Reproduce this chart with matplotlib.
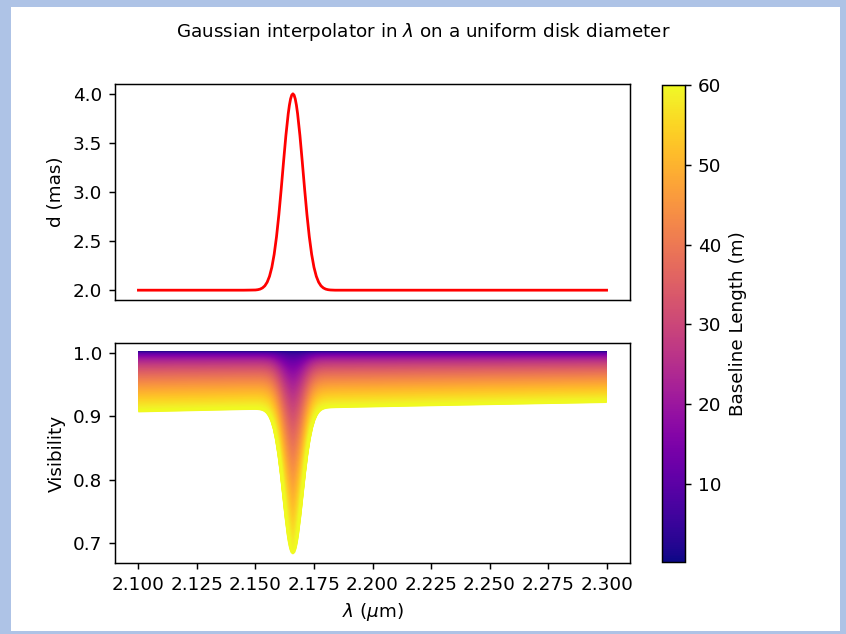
import numpy as np
import matplotlib
matplotlib.use("Agg")
import matplotlib.pyplot as plt
from matplotlib.collections import LineCollection
from matplotlib.colors import Normalize
from matplotlib.cm import ScalarMappable

# --- data ---
wavelengths = [2.100, 2.120, 2.140, 2.145, 2.148, 2.150, 2.151, 2.152, 2.153, 2.154,
               2.155, 2.156, 2.157, 2.158, 2.159, 2.160, 2.161, 2.162, 2.163, 2.164,
               2.1645, 2.165, 2.1655, 2.166, 2.1665, 2.167, 2.1675, 2.168, 2.169,
               2.170, 2.171, 2.172, 2.173, 2.174, 2.175, 2.176, 2.177, 2.178, 2.179,
               2.180, 2.181, 2.182, 2.184, 2.190, 2.200, 2.220, 2.240, 2.260, 2.280, 2.300]
diameters = [2.000, 2.000, 2.000, 2.000, 2.001, 2.002, 2.005, 2.011, 2.023, 2.044,
             2.081, 2.141, 2.233, 2.366, 2.545, 2.769, 3.030, 3.308, 3.575, 3.798,
             3.884, 3.948, 3.987, 4.000, 3.987, 3.948, 3.884, 3.798, 3.575,
             3.308, 3.030, 2.769, 2.545, 2.366, 2.233, 2.141, 2.081, 2.044, 2.023,
             2.011, 2.005, 2.002, 2.000, 2.000, 2.000, 2.000, 2.000, 2.000, 2.000, 2.000]
baseline_min = 0.2
baseline_max = 60.0
n_baselines = 300

title = r"Gaussian interpolator in $\lambda$ on a uniform disk diameter"
xlabel = r"$\lambda$ ($\mu$m)"
ylabel_top = "d (mas)"
ylabel_bottom = "Visibility"
cbar_label = "Baseline Length (m)"
xticks = [2.100, 2.125, 2.150, 2.175, 2.200, 2.225, 2.250, 2.275, 2.300]
yticks_top = [2.0, 2.5, 3.0, 3.5, 4.0]
yticks_bottom = [0.7, 0.8, 0.9, 1.0]
cbar_ticks = [10, 20, 30, 40, 50, 60]

lam = np.array(wavelengths)
diam = np.array(diameters)
baselines = np.linspace(baseline_min, baseline_max, n_baselines)


def bessel_j1(x):
    out = np.zeros_like(x)
    fact_m = 1.0
    for m in range(15):
        fact_m1 = fact_m * (m + 1)
        out += (-1) ** m * (x / 2) ** (2 * m + 1) / (fact_m * fact_m1)
        fact_m = fact_m1
    return out


def ud_visibility(B, d_mas, lam_um):
    theta = d_mas * np.pi / (180 * 3600 * 1000)
    x = np.pi * B * theta / (lam_um * 1e-6)
    x = np.where(x == 0, 1e-12, x)
    return np.abs(2 * bessel_j1(x) / x)


DPI = 132
W, H = 846, 634
fig = plt.figure(figsize=(W / DPI, H / DPI), dpi=DPI)
fig.patch.set_facecolor("white")

# light-blue frame (left, top, right, bottom widths in pixels)
frame_col = "#aec3e6"
def px_rect(x0, y0, x1, y1):
    fig.patches.append(plt.Rectangle((x0 / W, 1 - y1 / H), (x1 - x0) / W, (y1 - y0) / H,
                                     transform=fig.transFigure, facecolor=frame_col,
                                     edgecolor="none", zorder=-1))
px_rect(0, 0, 11, H)
px_rect(0, 0, W, 7)
px_rect(W - 6, 0, W, H)
px_rect(0, H - 3, W, H)


def pos(x0, y0, x1, y1):
    return [x0 / W, 1 - y1 / H, (x1 - x0) / W, (y1 - y0) / H]

ax1 = fig.add_axes(pos(115, 84, 630, 300))
ax2 = fig.add_axes(pos(115, 343, 630, 563))
cax = fig.add_axes(pos(662, 85, 685, 562))

ax1.plot(lam, diam, color="red", linewidth=1.5)
ax1.set_xticks([])
ax1.set_yticks(yticks_top)
ax1.set_ylabel(ylabel_top)

norm = Normalize(vmin=baselines.min(), vmax=baselines.max())
cmap = plt.get_cmap("plasma")
segs = []
cols = []
for B in baselines:
    V = ud_visibility(B, diam, lam)
    segs.append(np.column_stack([lam, V]))
    cols.append(cmap(norm(B)))
lc = LineCollection(segs, colors=cols, linewidths=1.5)
ax2.add_collection(lc)
ax2.autoscale_view()
ax2.set_xticks(xticks)
ax2.set_xticklabels([f"{t:.3f}" for t in xticks])
ax2.set_yticks(yticks_bottom)
ax2.set_ylabel(ylabel_bottom)
ax2.set_xlabel(xlabel)
ax1.set_xlim(ax2.get_xlim())

sm = ScalarMappable(norm=norm, cmap=cmap)
cb = fig.colorbar(sm, cax=cax)
cb.set_ticks(cbar_ticks)
cb.set_label(cbar_label)

fig.suptitle(title, y=1 - 32 / H, va="center", fontsize=10)

fig.savefig("out.png", dpi=DPI)
